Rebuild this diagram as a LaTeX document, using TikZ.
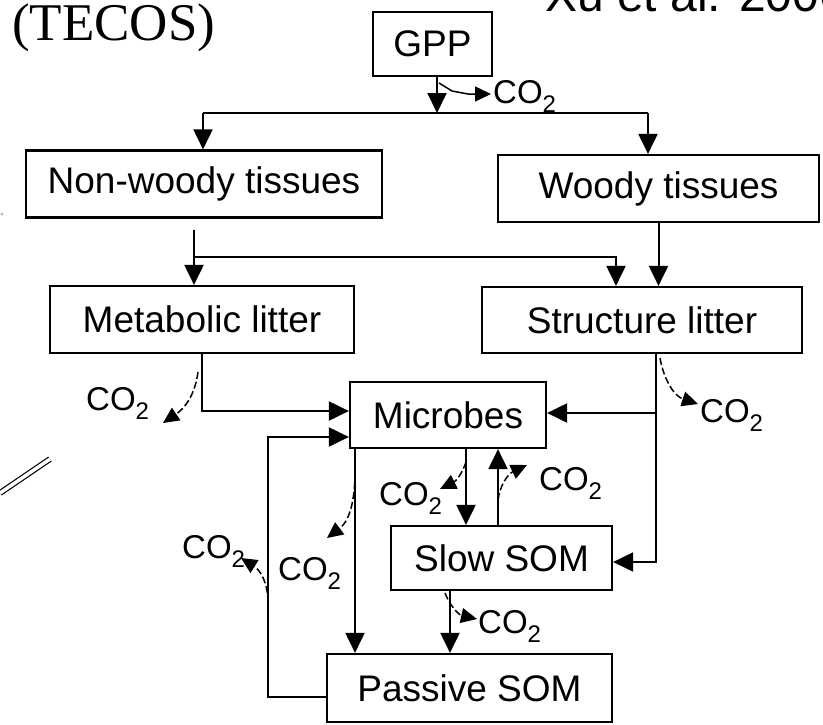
\documentclass[tikz,border=0pt]{standalone}
\usepackage{fontspec}
\setmainfont{Liberation Sans}
\newfontfamily\tecosfont{Liberation Serif}
\usetikzlibrary{arrows.meta,calc}
\newcommand{\cotwo}{CO\raisebox{-9pt}{\fontsize{24}{24}\selectfont 2}}
\tikzset{
  box/.style={draw, line width=2.2pt, inner sep=0pt, font=\fontsize{37}{40}\selectfont},
  arr/.style={line width=2pt, -{Triangle[length=20pt,width=19pt]}},
  co2arr/.style={line width=1.5pt, dash pattern=on 7pt off 3pt, -{Triangle[length=16pt,width=15pt]}},
  co2lbl/.style={anchor=base west, inner sep=0pt, font=\fontsize{33}{36}\selectfont}
}
\begin{document}
\begin{tikzpicture}[x=1pt,y=-1pt]
\useasboundingbox[fill=white] (0,0) rectangle (823,724);

% titles
\node[anchor=base west, inner sep=0pt, font=\tecosfont\fontsize{53}{60}\selectfont] (tecos) at (12,40) {(TECOS)};
\node[anchor=base west, inner sep=0pt, font=\fontsize{48}{54}\selectfont] (xu) at (545,11) {Xu et al. 2006};

% boxes
\node[box, minimum width=119pt, minimum height=64pt] (gpp) at (432.5,44) {GPP};
\node[box, minimum width=356pt, minimum height=67pt] (nw) at (204,184) {Non-woody tissues};
\node[box, minimum width=321pt, minimum height=67pt] (wd) at (658.5,188.5) {Woody tissues};
\node[box, minimum width=304pt, minimum height=67pt] (ml) at (202,319.5) {Metabolic litter};
\node[box, minimum width=320pt, minimum height=66pt] (sl) at (642,320) {Structure litter};
\node[box, minimum width=196pt, minimum height=66pt] (mic) at (448,415) {Microbes};
\node[box, minimum width=221pt, minimum height=64pt] (ss) at (501.5,558) {Slow SOM};
\node[box, minimum width=285pt, minimum height=68pt] (ps) at (469.5,688) {Passive SOM};

% CO2 labels
\node[co2lbl] (cg) at (493,103) {\cotwo};
\node[co2lbl] (cm) at (86,410) {\cotwo};
\node[co2lbl] (cs) at (700,422) {\cotwo};
\node[co2lbl] (cms) at (379,505) {\cotwo};
\node[co2lbl] (csm) at (539,490) {\cotwo};
\node[co2lbl] (cmp) at (278,580) {\cotwo};
\node[co2lbl] (cl) at (182,558) {\cotwo};
\node[co2lbl] (csp) at (478,633) {\cotwo};

% junction coordinates
\coordinate (jg) at (437,113);
\coordinate (jl) at (203,113);
\coordinate (jr) at (648,113);
\coordinate (n1) at (194,230);
\coordinate (n2) at (194,257);
\coordinate (n3) at (616,257);
\coordinate (m1) at (202,411);
\coordinate (s1) at (656,413);
\coordinate (s2) at (656,562);
\coordinate (a1) at (466,0);
\coordinate (a2) at (498,0);
\coordinate (a3) at (355,0);
\coordinate (a4) at (450,0);
\coordinate (l1) at (268,697);
\coordinate (l2) at (268,437);

% main flows
\draw[arr] (gpp.south -| jg) -- (jg);
\draw[line width=2pt] (jl) -- (jr);
\draw[arr] (jl) -- (jl |- nw.north);
\draw[arr] (jr) -- (jr |- wd.north);
\draw[arr] (n1) -- (n1 |- ml.north);
\draw[arr] (n2) -- (n3) -- (n3 |- sl.north);
\draw[arr] (wd.south) -- (wd.south |- sl.north);
\draw[arr] (ml.south -| m1) -- (m1) -- (m1 -| mic.west);
\draw[arr] (sl.south -| s2) -- (s2) -- (s2 -| ss.east);
\draw[arr] (s1) -- (s1 -| mic.east);
\draw[arr] (mic.south -| a1) -- (ss.north -| a1);
\draw[arr] (ss.north -| a2) -- (mic.south -| a2);
\draw[arr] (mic.south -| a3) -- (ps.north -| a3);
\draw[arr] (ss.south -| a4) -- (ps.north -| a4);
\draw[arr] (ps.west |- l1) -- (l1) -- (l2) -- (l2 -| mic.west);

% CO2 release
\coordinate (g0) at (439,83);
\coordinate (g1) at (491,94);
\draw[line width=1.5pt, -{Triangle[length=16pt,width=15pt]}] (g0) -- (452,91) -- (468,94) -- (g1);
\draw[co2arr] (198,372) .. controls (195,395) and (185,408) .. (163,423);
\draw[co2arr] (660,358) .. controls (664,380) and (674,396) .. (698,404);
\draw[co2arr] (466,462) .. controls (462,474) and (456,481) .. (440,489);
\draw[co2arr] (498,500) .. controls (500,485) and (508,474) .. (527,465);
\draw[co2arr] (355,462) .. controls (356,505) and (348,522) .. (327,538);
\draw[co2arr] (268,603) .. controls (268,582) and (260,570) .. (241,558);
\draw[co2arr] (445,593) .. controls (450,606) and (459,615) .. (477,619);

% stray marks
\draw[double, line width=1.2pt, double distance=3.5pt] (0,493) -- (50,459);
\fill[gray!60] (2,214) circle (1.5pt);
\end{tikzpicture}
\end{document}
